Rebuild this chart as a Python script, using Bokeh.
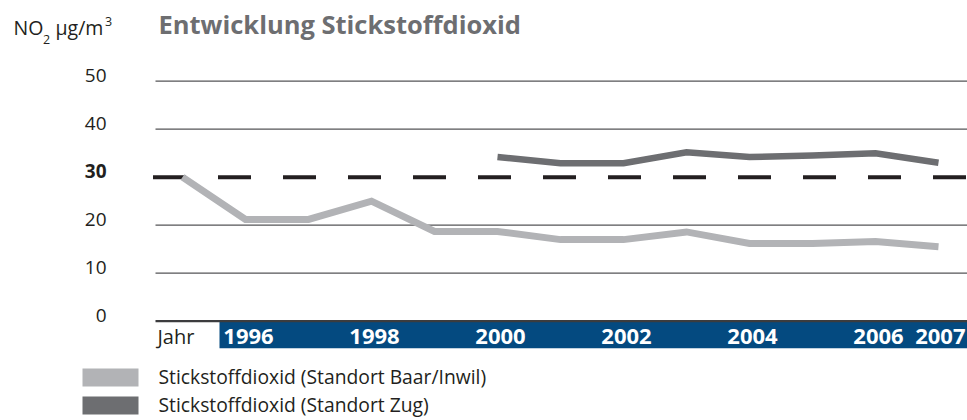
from bokeh.plotting import figure
from bokeh.models import Range1d
from bokeh.core.properties import value
from bokeh.embed import file_html
from bokeh.resources import INLINE

# ---------------- data ----------------
YEARS_BAAR = [1995, 1996, 1997, 1998, 1999, 2000, 2001, 2002, 2003, 2004, 2005, 2006, 2007]
NO2_BAAR = [30.0, 21.2, 21.2, 25.0, 18.7, 18.7, 17.0, 17.0, 18.6, 16.2, 16.2, 16.6, 15.5]
YEARS_ZUG = [2000, 2001, 2002, 2003, 2004, 2005, 2006, 2007]
NO2_ZUG = [34.2, 32.9, 32.9, 35.2, 34.2, 34.5, 35.0, 33.0]
LIMIT = 30
Y_TICKS = [0, 10, 20, 30, 40, 50]
X_TICK_YEARS = [1996, 1998, 2000, 2002, 2004, 2006, 2007]
X_AXIS_NAME = "Jahr"
TITLE = "Entwicklung Stickstoffdioxid"
LEGEND_LABELS = ["Stickstoffdioxid (Standort Baar/Inwil)", "Stickstoffdioxid (Standort Zug)"]

# ---------------- layout (page pixels; the figure sits at the page's top-left) ----------------
W, H = 967, 420
YEAR_REF, YEAR_REF_PX, PX_PER_YEAR = 2001, 560.0, 63.0
ZERO_PX, PX_PER_UNIT = 320.7, 4.8


def X(px):
    return YEAR_REF + (px - YEAR_REF_PX) / PX_PER_YEAR


def Y(py):
    return (ZERO_PX - py) / PX_PER_UNIT


def DY(dpx):
    return dpx / PX_PER_UNIT


FONT = value("Open Sans")
TEXT_COL = "#231f20"
LIGHT = "#b2b3b6"
DARK = "#6d6e71"
BLUE = "#044a80"

p = figure(width=W, height=H, x_range=Range1d(X(0), X(W)),
           y_range=Range1d(Y(H), Y(0)),
           output_backend="svg", toolbar_location=None, title=None,
           x_axis_location=None, y_axis_location=None, min_border=0,
           outline_line_color=None, background_fill_color="white",
           border_fill_color="white")
p.xgrid.visible = False
p.ygrid.visible = False

right_edge = X(W + 10)

# grid lines
grid_vals = [t for t in Y_TICKS if t not in (0, LIMIT)]
p.segment(x0=X(155), x1=right_edge, y0=grid_vals, y1=grid_vals,
          line_color="#555557", line_width=1.3)

# x band (years)
p.quad(left=X(219), right=right_edge, top=0, bottom=Y(347.7),
       fill_color=BLUE, line_color=None)
# zero line
p.segment(x0=X(155), x1=right_edge, y0=[0], y1=[0], line_color="#3c3c3e", line_width=2.2)

# limit line
p.segment(x0=X(152.5), x1=right_edge, y0=[LIMIT], y1=[LIMIT],
          line_color=TEXT_COL, line_width=4, line_dash="33 32")

# series
p.line(YEARS_BAAR, NO2_BAAR, line_color=LIGHT, line_width=7, line_join="miter")
p.line(YEARS_ZUG, NO2_ZUG, line_color=DARK, line_width=6.5, line_join="miter")

# y tick labels (visual centre 6px above their grid line)
reg = [t for t in Y_TICKS if t != LIMIT]
p.text(x=[X(106)] * len(reg), y=[t + DY(5.8) for t in reg], text=[str(t) for t in reg],
       text_font=FONT, text_font_size="19px", text_color=TEXT_COL,
       text_align="right", text_baseline="middle")
p.text(x=[X(106)], y=[LIMIT + DY(5.8)], text=[str(LIMIT)],
       text_font=FONT, text_font_size="19px", text_font_style="bold", text_color=TEXT_COL,
       text_align="right", text_baseline="middle")

# x labels
p.text(x=[X(157)], y=[Y(335.5)], text=[X_AXIS_NAME], text_font=FONT, text_font_size="20px",
       text_color=TEXT_COL, text_align="left", text_baseline="middle")
p.text(x=X_TICK_YEARS[:-1], y=[Y(335.5)] * (len(X_TICK_YEARS) - 1),
       text=[str(v) for v in X_TICK_YEARS[:-1]], x_offset=3,
       text_font=FONT, text_font_size="22px", text_font_style="bold", text_color="white",
       text_align="center", text_baseline="middle")
# last year label kept inside the band's right end
p.text(x=[X(965)], y=[Y(335.5)], text=[str(X_TICK_YEARS[-1])],
       text_font=FONT, text_font_size="22px", text_font_style="bold", text_color="white",
       text_align="right", text_baseline="middle")

# title
p.text(x=[X(158)], y=[Y(23.5)], text=[TITLE], text_font=FONT, text_font_size="25.5px",
       text_font_style="bold", text_color=DARK, text_align="left", text_baseline="middle")

# unit label  NO2 µg/m3
p.text(x=[X(13)], y=[Y(26.7)], text=["NO"], text_font=FONT, text_font_size="19.5px",
       text_color=TEXT_COL, text_align="left", text_baseline="middle")
p.text(x=[X(42.5)], y=[Y(38.5)], text=["2"], text_font=FONT, text_font_size="12.5px",
       text_color=TEXT_COL, text_align="left", text_baseline="middle")
p.text(x=[X(55)], y=[Y(26.7)], text=["µg/m"], text_font=FONT, text_font_size="19.5px",
       text_color=TEXT_COL, text_align="left", text_baseline="middle")
p.text(x=[X(104.5)], y=[Y(21)], text=["3"], text_font=FONT, text_font_size="12.5px",
       text_color=TEXT_COL, text_align="left", text_baseline="middle")

# legend
rows = [377, 405]
for (cy, col, lab) in zip(rows, [LIGHT, DARK], LEGEND_LABELS):
    p.quad(left=X(82), right=X(138), top=Y(cy - 9), bottom=Y(cy + 9),
           fill_color=col, line_color=None)
    p.text(x=[X(158)], y=[Y(cy - 1)], text=[lab], text_font=FONT, text_font_size="19.3px",
           text_color=TEXT_COL, text_align="left", text_baseline="middle")

open("out.html", "w").write(file_html(p, INLINE))
